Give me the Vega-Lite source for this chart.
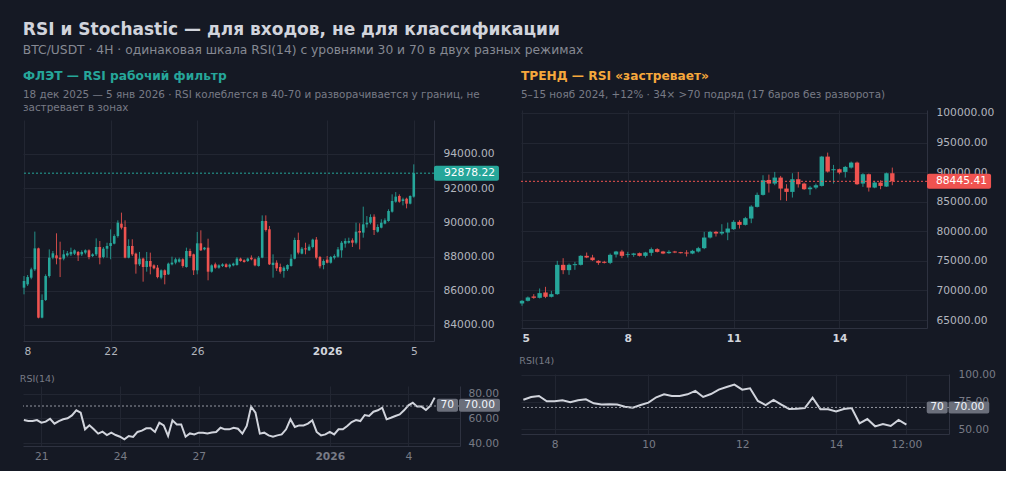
{
  "$schema": "https://vega.github.io/schema/vega-lite/v6.json",
  "description": "RSI in flat vs trend regime, BTC/USDT 4H",
  "background": "#151924",
  "padding": {"left": 19, "top": 20, "right": 10, "bottom": 10},
  "title": {
    "text": "RSI и Stochastic — для входов, не для классификации",
    "subtitle": "BTC/USDT · 4H · одинаковая шкала RSI(14) с уровнями 30 и 70 в двух разных режимах",
    "anchor": "start",
    "dx": 3,
    "font": "DejaVu Sans",
    "fontSize": 17,
    "fontWeight": "bold",
    "color": "#d1d4dc",
    "subtitleFont": "DejaVu Sans",
    "subtitleFontSize": 12.3,
    "subtitleColor": "#868993",
    "subtitlePadding": 5,
    "offset": 13
  },
  "datasets": {
    "candlesL": [
      {"i":0,"o":86180,"h":86860,"l":85790,"c":86570},{"i":1,"o":86375,"h":86920,"l":86280,"c":86800},
      {"i":2,"o":86765,"h":87350,"l":86670,"c":87250},{"i":3,"o":87250,"h":89460,"l":87150,"c":88480},
      {"i":4,"o":88480,"h":88520,"l":84386,"c":84425},{"i":5,"o":84425,"h":85790,"l":84386,"c":85460},
      {"i":6,"o":85460,"h":86960,"l":85400,"c":86860},{"i":7,"o":86860,"h":88420,"l":86765,"c":87935},
      {"i":8,"o":87935,"h":88325,"l":87840,"c":88190},{"i":9,"o":88070,"h":89360,"l":87545,"c":87895},
      {"i":10,"o":87935,"h":88870,"l":86800,"c":87840},{"i":11,"o":87880,"h":88380,"l":87780,"c":88130},
      {"i":12,"o":88070,"h":88325,"l":87995,"c":88190},{"i":13,"o":88130,"h":88520,"l":88030,"c":88270},
      {"i":14,"o":88170,"h":88420,"l":88090,"c":88365},{"i":15,"o":88270,"h":88325,"l":87740,"c":88070},
      {"i":16,"o":88130,"h":88365,"l":88030,"c":88270},{"i":17,"o":88230,"h":88420,"l":88130,"c":88365},
      {"i":18,"o":88365,"h":88420,"l":87840,"c":87970},{"i":19,"o":88030,"h":88190,"l":87970,"c":88130},
      {"i":20,"o":88130,"h":89065,"l":88030,"c":88560},{"i":21,"o":88560,"h":88910,"l":87545,"c":87935},
      {"i":22,"o":87970,"h":88560,"l":87895,"c":88460},{"i":23,"o":88460,"h":88810,"l":87935,"c":88620},
      {"i":24,"o":88620,"h":89590,"l":87840,"c":88790},{"i":25,"o":88755,"h":89300,"l":88715,"c":89200},
      {"i":26,"o":89200,"h":90120,"l":89105,"c":89980},{"i":27,"o":89925,"h":90570,"l":89590,"c":89690},
      {"i":28,"o":89730,"h":90120,"l":87895,"c":87935},{"i":29,"o":87935,"h":89010,"l":87895,"c":88620},
      {"i":30,"o":88620,"h":89010,"l":88030,"c":88130},{"i":31,"o":88170,"h":88230,"l":86999,"c":87545},
      {"i":32,"o":87545,"h":88270,"l":87450,"c":87880},{"i":33,"o":87880,"h":87935,"l":86530,"c":87390},
      {"i":34,"o":87390,"h":88270,"l":87115,"c":87740},{"i":35,"o":87740,"h":88230,"l":86960,"c":87410},
      {"i":36,"o":87485,"h":87545,"l":87250,"c":87310},{"i":37,"o":87350,"h":87505,"l":86725,"c":86800},
      {"i":38,"o":86765,"h":87250,"l":86670,"c":87195},{"i":39,"o":87195,"h":87250,"l":86375,"c":86920},
      {"i":40,"o":86960,"h":87645,"l":86920,"c":87585},{"i":41,"o":87545,"h":87995,"l":87485,"c":87645},
      {"i":42,"o":87645,"h":87935,"l":87545,"c":87840},{"i":43,"o":87700,"h":87935,"l":87645,"c":87840},
      {"i":44,"o":87840,"h":87895,"l":87350,"c":87450},{"i":45,"o":87390,"h":88520,"l":87350,"c":88325},
      {"i":46,"o":88325,"h":88460,"l":87935,"c":88030},{"i":47,"o":88130,"h":88170,"l":86920,"c":87195},
      {"i":48,"o":87195,"h":89440,"l":86960,"c":88775},{"i":49,"o":88775,"h":89535,"l":88325,"c":88365},
      {"i":50,"o":88420,"h":88560,"l":88365,"c":88520},{"i":51,"o":88520,"h":89045,"l":86610,"c":87115},
      {"i":52,"o":87115,"h":87545,"l":87060,"c":87485},{"i":53,"o":87545,"h":87645,"l":87290,"c":87350},
      {"i":54,"o":87350,"h":87545,"l":87290,"c":87485},{"i":55,"o":87450,"h":87605,"l":87390,"c":87545},
      {"i":56,"o":87545,"h":87605,"l":87350,"c":87390},{"i":57,"o":87410,"h":87585,"l":87310,"c":87525},
      {"i":58,"o":87485,"h":87645,"l":87430,"c":87585},{"i":59,"o":87505,"h":87970,"l":87465,"c":87880},
      {"i":60,"o":87880,"h":87935,"l":87700,"c":87740},{"i":61,"o":87780,"h":87840,"l":87645,"c":87680},
      {"i":62,"o":87740,"h":87935,"l":87680,"c":87880},{"i":63,"o":87935,"h":88070,"l":87780,"c":87840},
      {"i":64,"o":87840,"h":87895,"l":87430,"c":87485},{"i":65,"o":87450,"h":88030,"l":87410,"c":87935},
      {"i":66,"o":87935,"h":90410,"l":87900,"c":90080},{"i":67,"o":90080,"h":90410,"l":89460,"c":89555},
      {"i":68,"o":89595,"h":89790,"l":87505,"c":87545},{"i":69,"o":87505,"h":88130,"l":86765,"c":87640},
      {"i":70,"o":87640,"h":87780,"l":87155,"c":87310},{"i":71,"o":87390,"h":87585,"l":87000,"c":87115},
      {"i":72,"o":87155,"h":87430,"l":86765,"c":87350},{"i":73,"o":87255,"h":87545,"l":87155,"c":87505},
      {"i":74,"o":87450,"h":88130,"l":87410,"c":87875},{"i":75,"o":87875,"h":89105,"l":87835,"c":88970},
      {"i":76,"o":88970,"h":89400,"l":88130,"c":88230},{"i":77,"o":88170,"h":88560,"l":88130,"c":88460},
      {"i":78,"o":88480,"h":88810,"l":88130,"c":88420},{"i":79,"o":88365,"h":88715,"l":88325,"c":88580},
      {"i":80,"o":88560,"h":89045,"l":88480,"c":88990},{"i":81,"o":88990,"h":89145,"l":87835,"c":87935},
      {"i":82,"o":87975,"h":88035,"l":87310,"c":87430},{"i":83,"o":87505,"h":87835,"l":87255,"c":87740},
      {"i":84,"o":87820,"h":88035,"l":87600,"c":87640},{"i":85,"o":87640,"h":88035,"l":87585,"c":87975},
      {"i":86,"o":87935,"h":88130,"l":87835,"c":88035},{"i":87,"o":87995,"h":88560,"l":87935,"c":88420},
      {"i":88,"o":88365,"h":88910,"l":87935,"c":88810},{"i":89,"o":88755,"h":89065,"l":88520,"c":88910},
      {"i":90,"o":88810,"h":89105,"l":88755,"c":88910},{"i":91,"o":88950,"h":89065,"l":88560,"c":88810},
      {"i":92,"o":88810,"h":89980,"l":88715,"c":89455},{"i":93,"o":89495,"h":89945,"l":88420,"c":89400},
      {"i":94,"o":89400,"h":90920,"l":89105,"c":89885},{"i":95,"o":89885,"h":90370,"l":89690,"c":89980},
      {"i":96,"o":89980,"h":90470,"l":89885,"c":90310},{"i":97,"o":90330,"h":90470,"l":89260,"c":89555},
      {"i":98,"o":89455,"h":89885,"l":89400,"c":89730},{"i":99,"o":89690,"h":90180,"l":89650,"c":89980},
      {"i":100,"o":89925,"h":90235,"l":89885,"c":90120},{"i":101,"o":90080,"h":90765,"l":90040,"c":90665},
      {"i":102,"o":90625,"h":91640,"l":90570,"c":91250},{"i":103,"o":91210,"h":91775,"l":91150,"c":91505},
      {"i":104,"o":91545,"h":91640,"l":91150,"c":91210},{"i":105,"o":91250,"h":91445,"l":90995,"c":91350},
      {"i":106,"o":91385,"h":91445,"l":90820,"c":91095},{"i":107,"o":91095,"h":91580,"l":91055,"c":91545},
      {"i":108,"o":91505,"h":93395,"l":91445,"c":92878.22}
    ],
    "candlesR": [
      {"i":0,"o":67797,"h":68360,"l":67403,"c":68247},{"i":1,"o":68247,"h":68979,"l":68134,"c":68810},
      {"i":2,"o":68979,"h":69373,"l":68585,"c":68754},{"i":3,"o":68754,"h":70330,"l":68641,"c":69542},
      {"i":4,"o":69655,"h":70612,"l":68698,"c":68923},{"i":5,"o":68923,"h":69936,"l":68810,"c":69373},
      {"i":6,"o":69373,"h":75003,"l":69260,"c":74327},{"i":7,"o":74327,"h":75453,"l":72751,"c":73427},
      {"i":8,"o":73427,"h":74552,"l":72638,"c":74327},{"i":9,"o":74271,"h":74834,"l":73483,"c":74440},
      {"i":10,"o":74327,"h":75960,"l":74215,"c":75848},{"i":11,"o":75848,"h":76410,"l":75453,"c":75566},
      {"i":12,"o":75566,"h":76017,"l":75003,"c":75116},{"i":13,"o":75003,"h":75116,"l":74327,"c":74665},
      {"i":14,"o":74834,"h":75003,"l":74552,"c":74665},{"i":15,"o":74665,"h":76241,"l":74440,"c":76017},
      {"i":16,"o":76073,"h":76692,"l":75566,"c":76580},{"i":17,"o":76580,"h":76861,"l":75453,"c":75848},
      {"i":18,"o":76017,"h":76523,"l":75566,"c":76129},{"i":19,"o":76017,"h":76354,"l":75679,"c":76241},
      {"i":20,"o":76298,"h":76410,"l":75735,"c":75848},{"i":21,"o":75848,"h":76523,"l":75566,"c":76410},
      {"i":22,"o":76354,"h":77255,"l":75848,"c":76974},{"i":23,"o":76974,"h":77142,"l":76410,"c":76523},
      {"i":24,"o":76580,"h":76692,"l":76129,"c":76241},{"i":25,"o":76298,"h":76805,"l":76185,"c":76523},
      {"i":26,"o":76580,"h":76692,"l":76298,"c":76410},{"i":27,"o":76467,"h":76523,"l":76241,"c":76298},
      {"i":28,"o":76410,"h":76805,"l":75735,"c":76241},{"i":29,"o":76241,"h":76861,"l":76129,"c":76692},
      {"i":30,"o":76580,"h":77367,"l":76410,"c":77142},{"i":31,"o":77142,"h":79902,"l":76974,"c":78943},
      {"i":32,"o":78943,"h":80070,"l":78775,"c":79902},{"i":33,"o":79902,"h":80070,"l":79113,"c":79620},
      {"i":34,"o":79620,"h":81196,"l":79338,"c":79902},{"i":35,"o":79789,"h":81478,"l":78494,"c":80464},
      {"i":36,"o":80352,"h":81872,"l":80239,"c":81591},{"i":37,"o":81591,"h":81872,"l":80464,"c":81084},
      {"i":38,"o":81084,"h":82435,"l":80971,"c":82210},{"i":39,"o":82154,"h":84406,"l":81365,"c":84180},
      {"i":40,"o":84124,"h":86545,"l":84011,"c":86150},{"i":41,"o":86150,"h":89472,"l":86038,"c":88627},
      {"i":42,"o":88680,"h":89580,"l":86545,"c":88065},{"i":43,"o":88065,"h":90035,"l":87783,"c":89078},
      {"i":44,"o":89078,"h":89360,"l":85250,"c":87220},{"i":45,"o":87220,"h":87952,"l":85137,"c":86657},
      {"i":46,"o":86657,"h":89810,"l":85700,"c":88797},{"i":47,"o":88797,"h":90035,"l":87389,"c":87952},
      {"i":48,"o":88065,"h":88234,"l":86995,"c":87107},{"i":49,"o":87107,"h":87670,"l":86150,"c":87389},
      {"i":50,"o":87389,"h":88065,"l":87107,"c":87783},{"i":51,"o":87670,"h":92737,"l":87558,"c":92625},
      {"i":52,"o":92625,"h":93300,"l":89922,"c":90092},{"i":53,"o":90317,"h":91218,"l":88065,"c":90486},
      {"i":54,"o":90486,"h":90598,"l":89641,"c":89922},{"i":55,"o":90035,"h":91048,"l":89078,"c":90880},
      {"i":56,"o":90767,"h":91780,"l":90598,"c":91611},{"i":57,"o":91611,"h":91780,"l":87839,"c":87952},
      {"i":58,"o":88065,"h":89810,"l":87502,"c":89641},{"i":59,"o":89641,"h":89753,"l":86713,"c":87389},
      {"i":60,"o":87389,"h":88515,"l":87276,"c":88234},{"i":61,"o":88234,"h":88628,"l":87107,"c":87670},
      {"i":62,"o":87558,"h":89922,"l":87502,"c":89810},{"i":63,"o":89810,"h":90767,"l":87783,"c":88445.41}
    ],
    "rsiL": [
      {"i":14,"rsi":58.6},{"i":15,"rsi":57.8},{"i":16,"rsi":57.8},{"i":17,"rsi":58.6},{"i":18,"rsi":56.5},
      {"i":19,"rsi":57.3},{"i":20,"rsi":59.7},{"i":21,"rsi":55.7},{"i":22,"rsi":57.8},{"i":23,"rsi":59.2},
      {"i":24,"rsi":60.0},{"i":25,"rsi":62.4},{"i":26,"rsi":66.5},{"i":27,"rsi":64.6},{"i":28,"rsi":51.1},
      {"i":29,"rsi":54.3},{"i":30,"rsi":51.1},{"i":31,"rsi":47.6},{"i":32,"rsi":49.2},{"i":33,"rsi":46.5},
      {"i":34,"rsi":48.4},{"i":35,"rsi":46.5},{"i":36,"rsi":45.1},{"i":37,"rsi":43.0},{"i":38,"rsi":45.7},
      {"i":39,"rsi":44.9},{"i":40,"rsi":49.0},{"i":41,"rsi":50.0},{"i":42,"rsi":51.9},{"i":43,"rsi":51.9},
      {"i":44,"rsi":49.0},{"i":45,"rsi":56.5},{"i":46,"rsi":54.3},{"i":47,"rsi":45.7},{"i":48,"rsi":58.4},
      {"i":49,"rsi":55.1},{"i":50,"rsi":55.1},{"i":51,"rsi":45.1},{"i":52,"rsi":47.8},{"i":53,"rsi":47.0},
      {"i":54,"rsi":48.4},{"i":55,"rsi":48.4},{"i":56,"rsi":47.8},{"i":57,"rsi":48.6},{"i":58,"rsi":48.9},
      {"i":59,"rsi":52.4},{"i":60,"rsi":51.1},{"i":61,"rsi":51.1},{"i":62,"rsi":52.4},{"i":63,"rsi":51.6},
      {"i":64,"rsi":47.6},{"i":65,"rsi":53.8},{"i":66,"rsi":69.5},{"i":67,"rsi":64.6},{"i":68,"rsi":47.6},
      {"i":69,"rsi":48.4},{"i":70,"rsi":46.2},{"i":71,"rsi":45.1},{"i":72,"rsi":46.2},{"i":73,"rsi":47.0},
      {"i":74,"rsi":51.1},{"i":75,"rsi":59.2},{"i":76,"rsi":53.0},{"i":77,"rsi":54.3},{"i":78,"rsi":54.3},
      {"i":79,"rsi":55.7},{"i":80,"rsi":58.4},{"i":81,"rsi":49.0},{"i":82,"rsi":46.2},{"i":83,"rsi":47.0},
      {"i":84,"rsi":49.0},{"i":85,"rsi":47.0},{"i":86,"rsi":51.1},{"i":87,"rsi":51.1},{"i":88,"rsi":53.8},
      {"i":89,"rsi":57.0},{"i":90,"rsi":58.6},{"i":91,"rsi":57.8},{"i":92,"rsi":62.7},{"i":93,"rsi":61.9},
      {"i":94,"rsi":65.4},{"i":95,"rsi":66.5},{"i":96,"rsi":68.6},{"i":97,"rsi":59.2},{"i":98,"rsi":60.5},
      {"i":99,"rsi":61.9},{"i":100,"rsi":63.2},{"i":101,"rsi":66.5},{"i":102,"rsi":70.5},{"i":103,"rsi":72.7},
      {"i":104,"rsi":69.5},{"i":105,"rsi":69.5},{"i":106,"rsi":66.8},{"i":107,"rsi":70.0},{"i":108,"rsi":76.8}
    ],
    "rsiR": [
      {"i":14,"rsi":77.1},{"i":15,"rsi":79.6},{"i":16,"rsi":80.5},{"i":17,"rsi":75.6},{"i":18,"rsi":75.6},
      {"i":19,"rsi":76.5},{"i":20,"rsi":74.7},{"i":21,"rsi":76.5},{"i":22,"rsi":77.4},{"i":23,"rsi":73.8},
      {"i":24,"rsi":72.6},{"i":25,"rsi":72.9},{"i":26,"rsi":72.6},{"i":27,"rsi":70.7},{"i":28,"rsi":69.8},
      {"i":29,"rsi":72.2},{"i":30,"rsi":74.4},{"i":31,"rsi":79.3},{"i":32,"rsi":82.0},{"i":33,"rsi":80.5},
      {"i":34,"rsi":80.5},{"i":35,"rsi":82.0},{"i":36,"rsi":85.1},{"i":37,"rsi":79.6},{"i":38,"rsi":82.3},
      {"i":39,"rsi":86.3},{"i":40,"rsi":88.7},{"i":41,"rsi":90.9},{"i":42,"rsi":86.3},{"i":43,"rsi":87.5},
      {"i":44,"rsi":75.9},{"i":45,"rsi":72.2},{"i":46,"rsi":76.8},{"i":47,"rsi":72.6},{"i":48,"rsi":68.6},
      {"i":49,"rsi":68.9},{"i":50,"rsi":69.5},{"i":51,"rsi":79.0},{"i":52,"rsi":68.3},{"i":53,"rsi":68.3},
      {"i":54,"rsi":66.4},{"i":55,"rsi":68.6},{"i":56,"rsi":69.5},{"i":57,"rsi":55.5},{"i":58,"rsi":59.4},
      {"i":59,"rsi":52.7},{"i":60,"rsi":54.9},{"i":61,"rsi":53.0},{"i":62,"rsi":58.5},{"i":63,"rsi":54.3}
    ]
  },
  "spacing": 19,
  "hconcat": [
    {
      "bounds": "flush",
      "spacing": 10,
      "vconcat": [
        {
          "width": 411,
          "height": 1,
          "title": {
            "text": "ФЛЭТ — RSI рабочий фильтр",
            "subtitle": ["18 дек 2025 — 5 янв 2026 · RSI колеблется в 40-70 и разворачивается у границ, не", "застревает в зонах"],
            "color": "#26a69a",
            "fontSize": 12.2,
            "subtitleFontSize": 10.4,
            "subtitleLineHeight": 13,
            "subtitlePadding": 8,
            "offset": -10
          },
          "data": {"values": [{}]},
          "mark": {"type": "text"},
          "encoding": {"text": {"value": ""}}
        },
        {
          "bounds": "flush",
          "spacing": 45,
          "vconcat": [
            {
              "width": 411,
              "height": 221,
              "layer": [
                {
                  "data": {"name": "candlesL"},
                  "mark": {"type": "rule", "strokeWidth": 1, "opacity": 0.85},
                  "encoding": {
                    "x": {"field": "i", "type": "quantitative", "title": null,
                      "scale": {"domain": [-0.28, 113.6], "nice": false, "zero": false, "padding": 0},
                      "axis": {"values": [0, 24, 48, 84, 108], "tickCount": 20,
                        "labelExpr": "datum.value == 0 ? '8' : datum.value == 24 ? '22' : datum.value == 48 ? '26' : datum.value == 84 ? '2026' : '5'",
                        "labelFontWeight": {"condition": {"test": "datum.value == 84", "value": "bold"}, "value": "normal"},
                        "labelColor": {"condition": {"test": "datum.value == 84", "value": "#d1d4dc"}, "value": "#b2b5be"},
                        "labelFlush": 3}},
                    "y": {"field": "l", "type": "quantitative", "title": null,
                      "scale": {"domain": [83060, 95989], "nice": false, "zero": false, "padding": 0},
                      "axis": {"orient": "right", "values": [84000, 86000, 88000, 90000, 92000, 94000], "tickCount": 20, "format": ".2f"}},
                    "y2": {"field": "h"},
                    "color": {"condition": {"test": "datum.c >= datum.o", "value": "#26a69a"}, "value": "#ef5350"}
                  }
                },
                {
                  "data": {"name": "candlesL"},
                  "mark": {"type": "bar", "width": 2.6},
                  "encoding": {
                    "x": {"field": "i", "type": "quantitative", "title": null},
                    "y": {"field": "o", "type": "quantitative", "title": null},
                    "y2": {"field": "c"},
                    "color": {"condition": {"test": "datum.c >= datum.o", "value": "#26a69a"}, "value": "#ef5350"}
                  }
                },
                {
                  "data": {"values": [{}]},
                  "mark": {"type": "rule", "color": "#26a69a", "strokeDash": [2, 2], "strokeWidth": 1},
                  "encoding": {"y": {"datum": 92878.22, "title": null}}
                },
                {
                  "data": {"values": [{}]},
                  "mark": {"type": "rect", "color": "#26a69a", "cornerRadius": 2},
                  "encoding": {
                    "x": {"datum": 113.6, "title": null}, "x2": {"datum": 131.6},
                    "y": {"datum": 93318, "title": null}, "y2": {"datum": 92438}
                  }
                },
                {
                  "data": {"values": [{}]},
                  "mark": {"type": "text", "align": "left", "baseline": "middle", "dx": 10, "fontSize": 10.7, "color": "#ffffff"},
                  "encoding": {
                    "x": {"datum": 113.6, "title": null},
                    "y": {"datum": 92878.22, "title": null},
                    "text": {"value": "92878.22"}
                  }
                }
              ]
            },
            {
              "width": 437,
              "height": 60,
              "title": {"text": "RSI(14)", "fontSize": 9.5, "fontWeight": "normal", "color": "#787b86", "offset": 3},
              "layer": [
                {
                  "data": {"name": "rsiL"},
                  "mark": {"type": "line", "color": "#d1d4dc", "strokeWidth": 2},
                  "encoding": {
                    "x": {"field": "i", "type": "quantitative", "title": null,
                      "scale": {"domain": [13.8, 113.8], "nice": false, "zero": false},
                      "axis": {"values": [18, 36, 54, 84, 102], "tickCount": 20,
                        "labelExpr": "datum.value == 18 ? '21' : datum.value == 36 ? '24' : datum.value == 54 ? '27' : datum.value == 84 ? '2026' : '4'",
                        "labelFontWeight": {"condition": {"test": "datum.value == 84", "value": "bold"}, "value": "normal"},
                        "labelColor": "#787b86"}},
                    "y": {"field": "rsi", "type": "quantitative", "title": null,
                      "scale": {"domain": [37.6, 86.2], "nice": false, "zero": false},
                      "axis": {"orient": "right", "values": [40, 60, 80], "tickCount": 20, "format": ".2f", "labelColor": "#787b86", "labelPadding": 8}}
                  }
                },
                {
                  "data": {"values": [{}]},
                  "mark": {"type": "rule", "color": "#9598a1", "strokeDash": [2, 2], "strokeWidth": 1},
                  "encoding": {"y": {"datum": 70, "title": null}}
                },
                {
                  "data": {"values": [{"label": "70", "x0": 108.5, "x1": 113.35, "xm": 110.9}, {"label": "70.00", "x0": 113.57, "x1": 122.95, "xm": 118.3}]},
                  "layer": [
                    {
                      "mark": {"type": "rect", "color": "#6b6f7b", "cornerRadius": 2},
                      "encoding": {
                        "x": {"field": "x0", "type": "quantitative", "title": null}, "x2": {"field": "x1"},
                        "y": {"datum": 75.9, "title": null}, "y2": {"datum": 65.3}
                      }
                    },
                    {
                      "mark": {"type": "text", "align": "center", "baseline": "middle", "fontSize": 10.7, "color": "#f0f3fa"},
                      "encoding": {
                        "x": {"field": "xm", "type": "quantitative", "title": null},
                        "y": {"datum": 70.6, "title": null},
                        "text": {"field": "label"}
                      }
                    }
                  ]
                }
              ]
            }
          ]
        }
      ]
    },
    {
      "bounds": "flush",
      "spacing": 0,
      "vconcat": [
        {
          "width": 406,
          "height": 1,
          "title": {
            "text": "ТРЕНД — RSI «застревает»",
            "subtitle": "5–15 нояб 2024, +12% · 34× >70 подряд (17 баров без разворота)",
            "color": "#f6a83c",
            "fontSize": 12.2,
            "subtitleFontSize": 10.4,
            "subtitleLineHeight": 13,
            "subtitlePadding": 8,
            "offset": 3
          },
          "data": {"values": [{}]},
          "mark": {"type": "text"},
          "encoding": {"text": {"value": ""}}
        },
        {
          "bounds": "flush",
          "spacing": 46,
          "vconcat": [
            {
              "width": 406,
              "height": 218,
              "layer": [
                {
                  "data": {"name": "candlesR"},
                  "mark": {"type": "rule", "strokeWidth": 1, "opacity": 0.85},
                  "encoding": {
                    "x": {"field": "i", "type": "quantitative", "title": null,
                      "scale": {"domain": [-0.17, 68.9], "nice": false, "zero": false, "padding": 0},
                      "axis": {"values": [0, 18, 36, 54], "tickCount": 20,
                        "labelExpr": "datum.value == 0 ? '5' : datum.value == 18 ? '8' : datum.value == 36 ? '11' : '14'",
                        "labelFontWeight": "bold", "labelColor": "#d1d4dc"}},
                    "y": {"field": "l", "type": "quantitative", "title": null,
                      "scale": {"domain": [63650, 100500], "nice": false, "zero": false, "padding": 0},
                      "axis": {"orient": "right", "values": [65000, 70000, 75000, 80000, 85000, 90000, 95000, 100000], "tickCount": 20, "format": ".2f"}},
                    "y2": {"field": "h"},
                    "color": {"condition": {"test": "datum.c >= datum.o", "value": "#26a69a"}, "value": "#ef5350"}
                  }
                },
                {
                  "data": {"name": "candlesR"},
                  "mark": {"type": "bar", "width": 4.4},
                  "encoding": {
                    "x": {"field": "i", "type": "quantitative", "title": null},
                    "y": {"field": "o", "type": "quantitative", "title": null},
                    "y2": {"field": "c"},
                    "color": {"condition": {"test": "datum.c >= datum.o", "value": "#26a69a"}, "value": "#ef5350"}
                  }
                },
                {
                  "data": {"values": [{}]},
                  "mark": {"type": "rule", "color": "#ef5350", "strokeDash": [2, 2], "strokeWidth": 1},
                  "encoding": {"y": {"datum": 88445.41, "title": null}}
                },
                {
                  "data": {"values": [{}]},
                  "mark": {"type": "rect", "color": "#ef5350", "cornerRadius": 2},
                  "encoding": {
                    "x": {"datum": 68.9, "title": null}, "x2": {"datum": 79.8},
                    "y": {"datum": 89705, "title": null}, "y2": {"datum": 87185}
                  }
                },
                {
                  "data": {"values": [{}]},
                  "mark": {"type": "text", "align": "left", "baseline": "middle", "dx": 9, "fontSize": 10.7, "color": "#ffffff"},
                  "encoding": {
                    "x": {"datum": 68.9, "title": null},
                    "y": {"datum": 88445.41, "title": null},
                    "text": {"value": "88445.41"}
                  }
                }
              ]
            },
            {
              "width": 428,
              "height": 60,
              "title": {"text": "RSI(14)", "fontSize": 9.5, "fontWeight": "normal", "color": "#787b86", "offset": 3},
              "layer": [
                {
                  "data": {"name": "rsiR"},
                  "mark": {"type": "line", "color": "#d1d4dc", "strokeWidth": 2},
                  "encoding": {
                    "x": {"field": "i", "type": "quantitative", "title": null,
                      "scale": {"domain": [13.7, 68.45], "nice": false, "zero": false},
                      "axis": {"values": [18, 30, 42, 54, 63], "tickCount": 20,
                        "labelExpr": "datum.value == 18 ? '8' : datum.value == 30 ? '10' : datum.value == 42 ? '12' : datum.value == 54 ? '14' : '12:00'",
                        "labelColor": "#787b86"}},
                    "y": {"field": "rsi", "type": "quantitative", "title": null,
                      "scale": {"domain": [45.7, 100.6], "nice": false, "zero": false},
                      "axis": {"orient": "right", "values": [50, 75, 100], "tickCount": 20, "format": ".2f", "labelColor": "#787b86", "labelPadding": 9}}
                  }
                },
                {
                  "data": {"values": [{}]},
                  "mark": {"type": "rule", "color": "#9598a1", "strokeDash": [2, 2], "strokeWidth": 1},
                  "encoding": {"y": {"datum": 70, "title": null}}
                },
                {
                  "data": {"values": [{"label": "70", "x0": 65.6, "x1": 68.27, "xm": 66.93}, {"label": "70.00", "x0": 68.4, "x1": 73.6, "xm": 71.0}]},
                  "layer": [
                    {
                      "mark": {"type": "rect", "color": "#6b6f7b", "cornerRadius": 2},
                      "encoding": {
                        "x": {"field": "x0", "type": "quantitative", "title": null}, "x2": {"field": "x1"},
                        "y": {"datum": 75.5, "title": null}, "y2": {"datum": 64.5}
                      }
                    },
                    {
                      "mark": {"type": "text", "align": "center", "baseline": "middle", "fontSize": 10.7, "color": "#f0f3fa"},
                      "encoding": {
                        "x": {"field": "xm", "type": "quantitative", "title": null},
                        "y": {"datum": 70, "title": null},
                        "text": {"field": "label"}
                      }
                    }
                  ]
                }
              ]
            }
          ]
        }
      ]
    }
  ],
  "config": {
    "font": "DejaVu Sans",
    "view": {"stroke": null},
    "title": {"anchor": "start", "font": "DejaVu Sans", "fontWeight": "bold", "subtitleFont": "DejaVu Sans", "subtitleColor": "#787b86"},
    "axis": {
      "gridColor": "#222632",
      "gridWidth": 1,
      "domainColor": "#2e3240",
      "ticks": false,
      "tickSize": 0,
      "labelFont": "DejaVu Sans",
      "labelFontSize": 10.7,
      "labelColor": "#b2b5be",
      "labelOverlap": false
    },
    "axisX": {"labelPadding": 5},
    "axisY": {"labelPadding": 9}
  }
}
